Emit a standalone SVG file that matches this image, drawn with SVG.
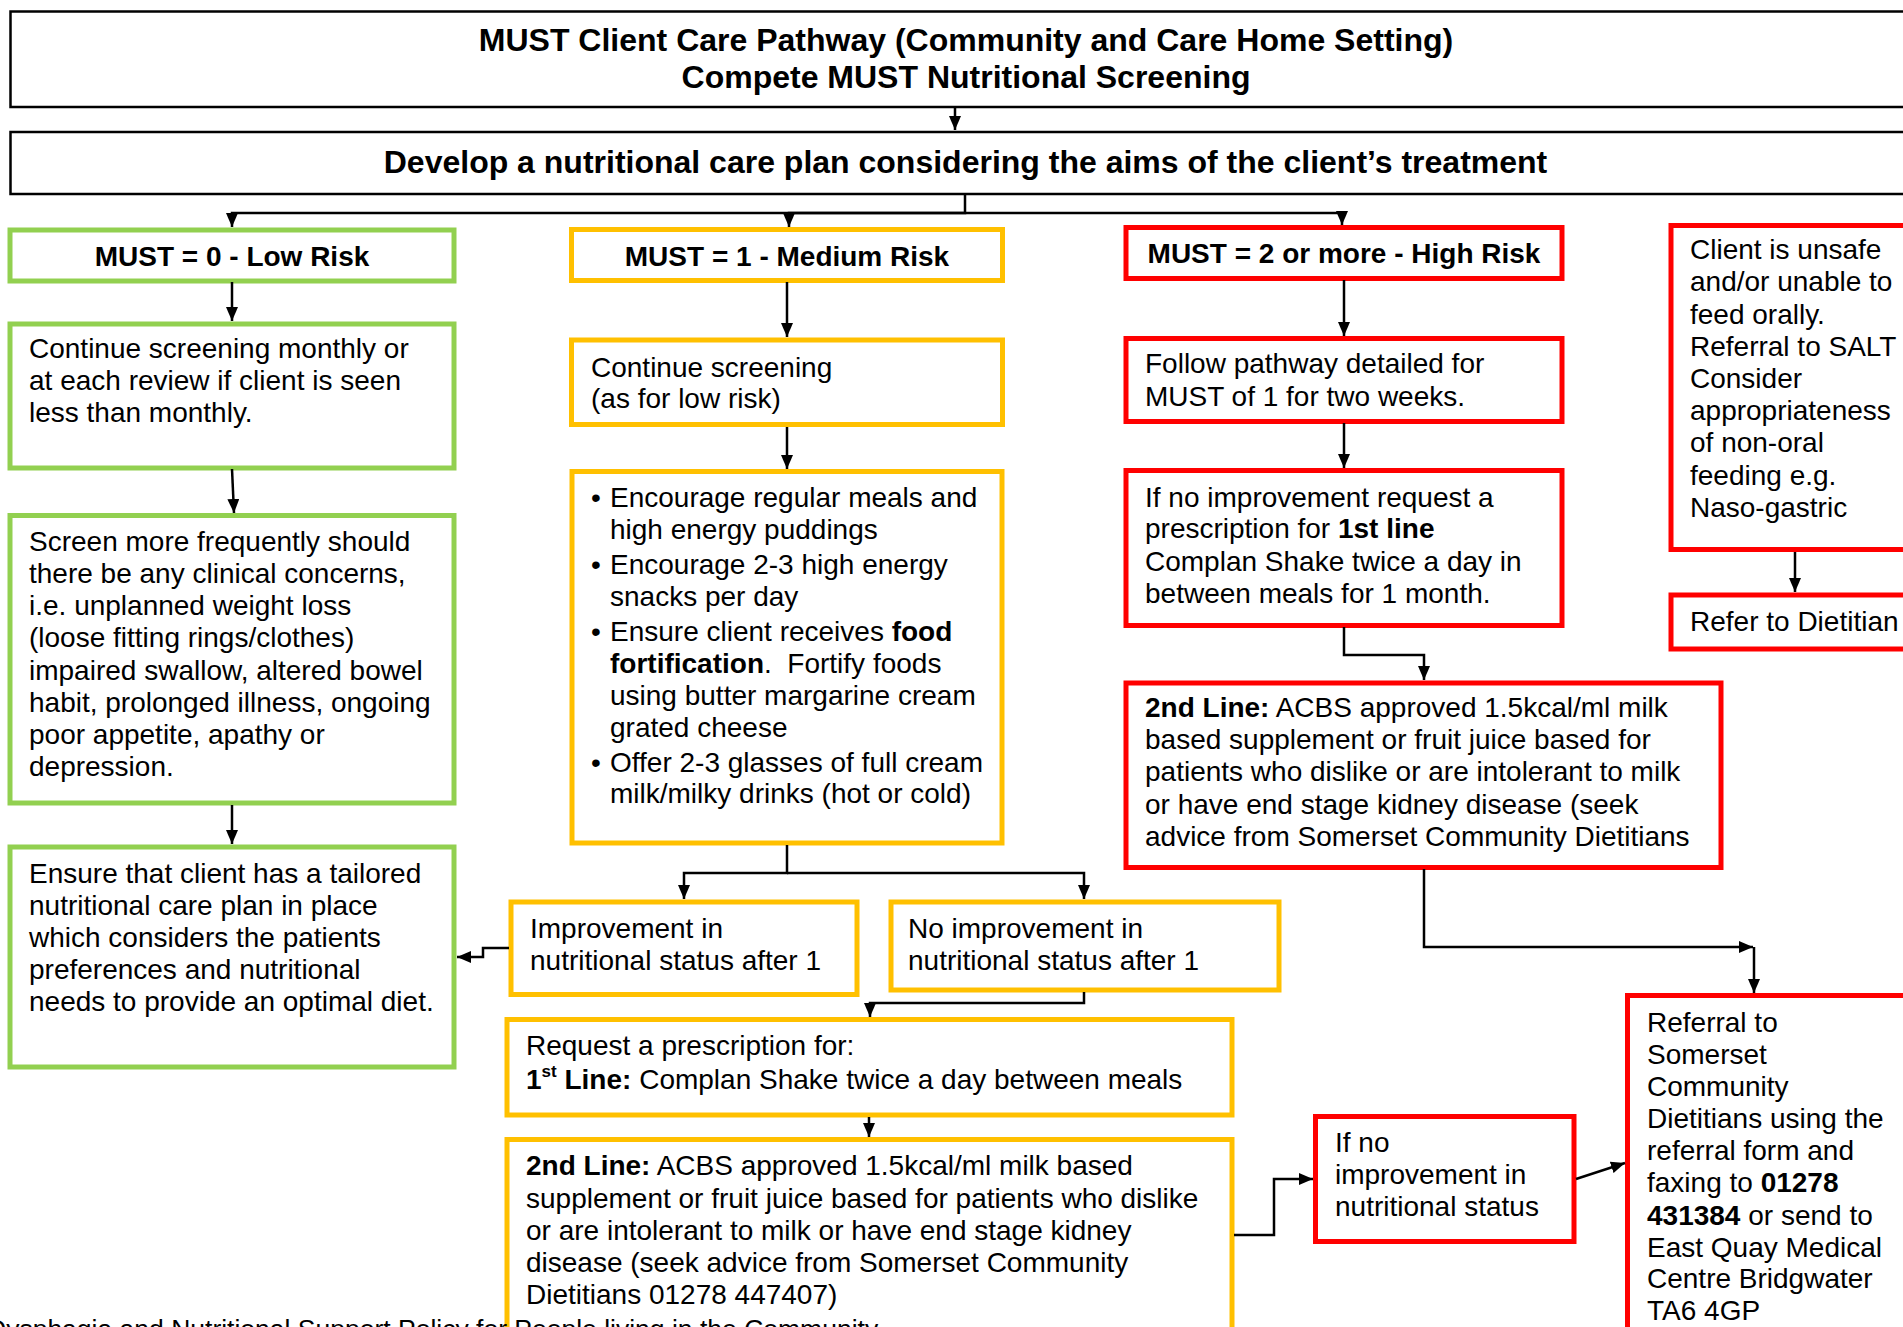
<svg xmlns="http://www.w3.org/2000/svg" width="1903" height="1327" viewBox="0 0 1903 1327">
<style>
.k{fill:#fff;stroke:#000;stroke-width:2.5}
.g{fill:#fff;stroke:#92D050;stroke-width:5}
.y{fill:#fff;stroke:#FFC000;stroke-width:5}
.r{fill:#fff;stroke:#FF0000;stroke-width:5}
text{font-family:"Liberation Sans",Arial,sans-serif;font-size:28px;fill:#000}
.h{font-weight:bold}
.tt{font-weight:bold;font-size:32px}
.c path{fill:none;stroke:#000;stroke-width:2.5;marker-end:url(#ah)}
</style>
<defs>
<marker id="ah" markerUnits="userSpaceOnUse" markerWidth="14" markerHeight="12" refX="14" refY="6" orient="auto">
<path d="M0,0 L14,6 L0,12 z" fill="#000"/>
</marker>
</defs>
<rect width="1903" height="1327" fill="#fff"/>

<g id="title">
<rect class="k" x="10.5" y="11.5" width="1920" height="95.5"/>
<text class="tt" x="966" y="51" text-anchor="middle">MUST Client Care Pathway (Community and Care Home Setting)</text>
<text class="tt" x="966" y="88" text-anchor="middle">Compete MUST Nutritional Screening</text>
</g>
<g id="plan">
<rect class="k" x="10.5" y="132" width="1920" height="62"/>
<text class="tt" x="965.5" y="173" text-anchor="middle">Develop a nutritional care plan considering the aims of the client’s treatment</text>
</g>

<g id="g1">
<rect class="g" x="10" y="230" width="444" height="51"/>
<text class="h" x="232" y="266" text-anchor="middle">MUST = 0 - Low Risk</text>
</g>
<g id="g2">
<rect class="g" x="10" y="324" width="444" height="144"/>
<text x="29" y="358">Continue screening monthly or</text>
<text x="29" y="390">at each review if client is seen</text>
<text x="29" y="422">less than monthly.</text>
</g>
<g id="g3">
<rect class="g" x="10" y="515.5" width="444" height="287.5"/>
<text x="29" y="551">Screen more frequently should</text>
<text x="29" y="583">there be any clinical concerns,</text>
<text x="29" y="615">i.e. unplanned weight loss</text>
<text x="29" y="647">(loose fitting rings/clothes)</text>
<text x="29" y="680">impaired swallow, altered bowel</text>
<text x="29" y="712">habit, prolonged illness, ongoing</text>
<text x="29" y="744">poor appetite, apathy or</text>
<text x="29" y="776">depression.</text>
</g>
<g id="g4">
<rect class="g" x="10" y="847" width="444" height="220"/>
<text x="29" y="883">Ensure that client has a tailored</text>
<text x="29" y="915">nutritional care plan in place</text>
<text x="29" y="947">which considers the patients</text>
<text x="29" y="979">preferences and nutritional</text>
<text x="29" y="1011">needs to provide an optimal diet.</text>
</g>

<g id="y1">
<rect class="y" x="571.5" y="229.5" width="431" height="51"/>
<text class="h" x="787" y="266" text-anchor="middle">MUST = 1 - Medium Risk</text>
</g>
<g id="y2">
<rect class="y" x="571.5" y="340" width="431" height="84.5"/>
<text x="591" y="377">Continue screening</text>
<text x="591" y="408">(as for low risk)</text>
</g>
<g id="y3">
<rect class="y" x="572" y="471.5" width="430" height="371.5"/>
<text x="591" y="507">•</text>
<text x="610" y="507">Encourage regular meals and</text>
<text x="610" y="539">high energy puddings</text>
<text x="591" y="574">•</text>
<text x="610" y="574">Encourage 2-3 high energy</text>
<text x="610" y="606">snacks per day</text>
<text x="591" y="641">•</text>
<text x="610" y="641">Ensure client receives <tspan class="h">food</tspan></text>
<text x="610" y="673" xml:space="preserve"><tspan class="h">fortification</tspan>.  Fortify foods</text>
<text x="610" y="705">using butter margarine cream</text>
<text x="610" y="737">grated cheese</text>
<text x="591" y="772">•</text>
<text x="610" y="772">Offer 2-3 glasses of full cream</text>
<text x="610" y="803">milk/milky drinks (hot or cold)</text>
</g>
<g id="y4">
<rect class="y" x="511" y="902" width="346" height="92.5"/>
<text x="530" y="938">Improvement in</text>
<text x="530" y="970">nutritional status after 1</text>
</g>
<g id="y5">
<rect class="y" x="891" y="902" width="388" height="88"/>
<text x="908" y="938">No improvement in</text>
<text x="908" y="970">nutritional status after 1</text>
</g>
<g id="y6">
<rect class="y" x="507" y="1019.5" width="725" height="95.5"/>
<text x="526" y="1055">Request a prescription for:</text>
<text x="526" y="1089"><tspan class="h">1</tspan><tspan class="h" font-size="17" dy="-12">st</tspan><tspan class="h" dy="12"> Line:</tspan> Complan Shake twice a day between meals</text>
</g>
<g id="y7">
<rect class="y" x="507" y="1139.5" width="725" height="230"/>
<text x="526" y="1175"><tspan class="h">2nd Line:</tspan> ACBS approved 1.5kcal/ml milk based</text>
<text x="526" y="1208">supplement or fruit juice based for patients who dislike</text>
<text x="526" y="1240">or are intolerant to milk or have end stage kidney</text>
<text x="526" y="1272">disease (seek advice from Somerset Community</text>
<text x="526" y="1304">Dietitians 01278 447407)</text>
</g>

<g id="r1">
<rect class="r" x="1126" y="227.5" width="436" height="51"/>
<text class="h" x="1344" y="263" text-anchor="middle">MUST = 2 or more - High Risk</text>
</g>
<g id="r2">
<rect class="r" x="1126" y="338.5" width="436" height="83"/>
<text x="1145" y="373">Follow pathway detailed for</text>
<text x="1145" y="406">MUST of 1 for two weeks.</text>
</g>
<g id="r3">
<rect class="r" x="1126" y="470.5" width="436" height="155"/>
<text x="1145" y="507">If no improvement request a</text>
<text x="1145" y="538">prescription for <tspan class="h">1st line</tspan></text>
<text x="1145" y="571">Complan Shake twice a day in</text>
<text x="1145" y="603">between meals for 1 month.</text>
</g>
<g id="r4">
<rect class="r" x="1126" y="683" width="595" height="184.5"/>
<text x="1145" y="717"><tspan class="h">2nd Line:</tspan> ACBS approved 1.5kcal/ml milk</text>
<text x="1145" y="749">based supplement or fruit juice based for</text>
<text x="1145" y="781">patients who dislike or are intolerant to milk</text>
<text x="1145" y="814">or have end stage kidney disease (seek</text>
<text x="1145" y="846">advice from Somerset Community Dietitians</text>
</g>
<g id="r5">
<rect class="r" x="1315.5" y="1116.5" width="258.5" height="125"/>
<text x="1335" y="1152">If no</text>
<text x="1335" y="1184">improvement in</text>
<text x="1335" y="1216">nutritional status</text>
</g>
<g id="r6">
<rect class="r" x="1627.5" y="995.5" width="320" height="400"/>
<text x="1647" y="1032">Referral to</text>
<text x="1647" y="1064">Somerset</text>
<text x="1647" y="1096">Community</text>
<text x="1647" y="1128">Dietitians using the</text>
<text x="1647" y="1160">referral form and</text>
<text x="1647" y="1192">faxing to <tspan class="h">01278</tspan></text>
<text x="1647" y="1225"><tspan class="h">431384</tspan> or send to</text>
<text x="1647" y="1257">East Quay Medical</text>
<text x="1647" y="1288">Centre Bridgwater</text>
<text x="1647" y="1320">TA6 4GP</text>
</g>
<g id="r7">
<rect class="r" x="1671" y="225.5" width="280" height="324"/>
<text x="1690" y="259">Client is unsafe</text>
<text x="1690" y="291">and/or unable to</text>
<text x="1690" y="324">feed orally.</text>
<text x="1690" y="356">Referral to SALT</text>
<text x="1690" y="388">Consider</text>
<text x="1690" y="420">appropriateness</text>
<text x="1690" y="452">of non-oral</text>
<text x="1690" y="485">feeding e.g.</text>
<text x="1690" y="517">Naso-gastric</text>
</g>
<g id="r8">
<rect class="r" x="1671" y="595" width="280" height="54"/>
<text x="1690" y="631">Refer to Dietitian</text>
</g>

<g id="connectors" class="c">
<path d="M955,107 V130"/>
<path d="M965,194 V213 H232 V227"/>
<path d="M965,213 H789 V227"/>
<path d="M965,213 H1342 V225"/>
<path d="M232,282 V321"/>
<path d="M232,469 L234,513"/>
<path d="M232,805 V844"/>
<path d="M787,282 V337"/>
<path d="M787,427 V469"/>
<path d="M787,845 V873 H684 V899"/>
<path d="M787,873 H1084 V899"/>
<path d="M1084,992 V1003 H870 V1017"/>
<path d="M509,948 H483 V957 H457"/>
<path d="M869,1117 V1137"/>
<path d="M1234,1235 H1274 V1179 H1313"/>
<path d="M1576,1179 L1625,1163"/>
<path d="M1344,280 V336"/>
<path d="M1344,423 V468"/>
<path d="M1344,627 V655 H1424 V680"/>
<path d="M1424,869 V947 H1753"/>
<path d="M1754,947 V993"/>
<path d="M1795,552 V592"/>
</g>

<text x="-13" y="1338" font-size="26.5" style="font-size:26.5px">Dysphagia and Nutritional Support Policy for People living in the Community</text>
</svg>
